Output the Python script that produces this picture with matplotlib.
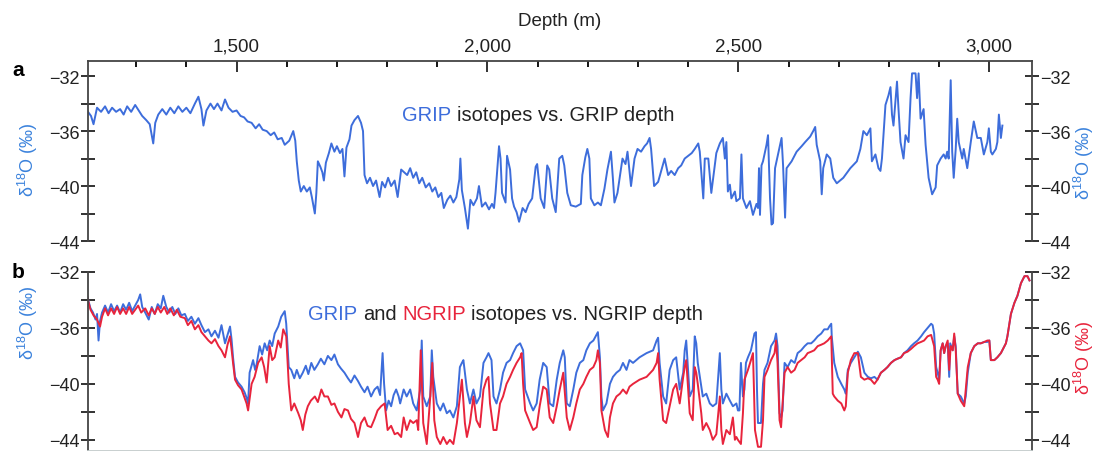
import numpy as np
import matplotlib
matplotlib.use("Agg")
import matplotlib.pyplot as plt
from matplotlib.ticker import FuncFormatter, MultipleLocator

plt.rcParams['font.family'] = ['Liberation Sans', 'DejaVu Sans']
plt.rcParams['mathtext.fontset'] = 'custom'
plt.rcParams['mathtext.rm'] = 'Liberation Sans'

# panel a: GRIP d18O on GRIP depth (m, permil)
grip_a_depth = [
    1204, 1210, 1215, 1222, 1230, 1238, 1245, 1252, 1260, 1268, 1275, 1282, 1290, 1298,
    1305, 1312, 1320, 1327, 1334, 1338, 1344, 1352, 1360, 1368, 1376, 1384, 1392, 1400,
    1408, 1417, 1424, 1430, 1434, 1440, 1448, 1455, 1462, 1470, 1477, 1484, 1492, 1500,
    1508, 1515, 1522, 1530, 1538, 1545, 1552, 1560, 1568, 1575, 1582, 1590, 1596, 1605,
    1613, 1617, 1620, 1624, 1628, 1634, 1640, 1646, 1650, 1656, 1659, 1662, 1667, 1671,
    1674, 1678, 1684, 1689, 1695, 1700, 1706, 1711, 1715, 1719, 1725, 1729, 1735, 1742,
    1748, 1752, 1755, 1760, 1766, 1772, 1778, 1785, 1790, 1796, 1802, 1808, 1815, 1821,
    1828, 1834, 1840, 1846, 1852, 1858, 1864, 1870, 1877, 1884, 1890, 1896, 1902, 1908,
    1913, 1920, 1926, 1932, 1938, 1944, 1946, 1949, 1955, 1961, 1966, 1972, 1979, 1983,
    1989, 1996, 2003, 2009, 2013, 2016, 2020, 2023, 2026, 2029, 2036, 2039, 2045, 2049,
    2053, 2058, 2063, 2070, 2076, 2082, 2089, 2093, 2096, 2099, 2103, 2106, 2113, 2119,
    2123, 2129, 2136, 2143, 2149, 2153, 2159, 2166, 2176, 2186, 2189, 2195, 2199, 2203,
    2206, 2213, 2220, 2226, 2233, 2239, 2246, 2250, 2253, 2259, 2269, 2275, 2279, 2286,
    2293, 2299, 2306, 2313, 2318, 2323, 2326, 2332, 2340, 2347, 2353, 2360, 2366, 2373,
    2380, 2386, 2393, 2400, 2407, 2413, 2420, 2423, 2430, 2433, 2440, 2446, 2453, 2456,
    2463, 2469, 2473, 2476, 2479, 2483, 2486, 2493, 2496, 2503, 2506, 2509, 2516, 2523,
    2529, 2536, 2539, 2541, 2543, 2546, 2549, 2556, 2559, 2563, 2566, 2569, 2573, 2579,
    2586, 2589, 2593, 2596, 2606, 2616, 2626, 2633, 2643, 2649, 2653, 2656, 2663, 2666,
    2669, 2676, 2683, 2689, 2696, 2709, 2723, 2736, 2743, 2749, 2756, 2763, 2766, 2773,
    2779, 2783, 2786, 2793, 2799, 2803, 2806, 2809, 2816, 2819, 2823, 2829, 2833, 2839,
    2843, 2846, 2853, 2856, 2859, 2863, 2869, 2873, 2879, 2886, 2893, 2896, 2903, 2909,
    2913, 2916, 2919, 2923, 2926, 2929, 2933, 2936, 2939, 2946, 2949, 2956, 2963, 2969,
    2976, 2983, 2989, 2996, 2999, 3003, 3006, 3013, 3016, 3019, 3023, 3026,
]
grip_a_d18o = [
    -34.6, -34.9, -35.5, -34.3, -34.6, -34.2, -34.7, -34.3, -34.6, -34.4, -34.8, -34.2, -34.6, -34.1,
    -34.5, -34.9, -35.2, -35.5, -36.9, -35.4, -34.8, -34.4, -34.8, -34.3, -34.7, -34.2, -34.6, -34.3,
    -34.7, -34.0, -33.5, -34.4, -35.6, -34.5, -34.0, -34.4, -34.0, -34.5, -33.7, -34.3, -34.6, -34.5,
    -34.9, -35.0, -35.3, -35.4, -35.8, -35.5, -35.9, -36.0, -36.3, -36.1, -36.6, -36.5, -37.0, -36.7,
    -36.0, -36.7, -38.2, -39.6, -40.4, -40.0, -40.4, -40.1, -40.8, -42.0, -40.5, -38.2, -38.6, -39.0,
    -39.6, -38.3, -37.6, -36.9, -37.5, -37.1, -37.6, -37.3, -39.3, -37.2, -36.6, -35.6, -35.2, -34.9,
    -35.4, -36.0, -39.2, -39.8, -39.4, -40.0, -39.6, -40.8, -39.7, -40.1, -39.4, -40.0, -39.6, -40.8,
    -38.8, -39.0, -39.2, -38.7, -39.4, -39.0, -39.8, -39.4, -40.1, -39.8, -40.4, -40.1, -40.8, -40.5,
    -41.6, -41.0, -40.7, -41.2, -40.8, -39.5, -38.0, -40.3, -41.6, -43.1, -41.0, -41.4, -40.9, -40.0,
    -41.5, -41.2, -41.7, -41.3, -41.6, -40.5, -38.5, -37.1, -38.0, -40.5, -41.2, -37.8, -38.8, -40.9,
    -41.5, -41.9, -42.6, -41.6, -41.9, -41.3, -40.9, -39.6, -38.6, -38.4, -39.8, -40.9, -41.6, -38.5,
    -38.8, -40.9, -41.9, -38.0, -37.8, -38.5, -40.5, -41.4, -41.5, -41.3, -39.2, -37.9, -37.3, -38.0,
    -40.9, -41.4, -41.2, -41.4, -40.2, -38.8, -37.5, -39.5, -41.2, -40.5, -38.0, -38.4, -37.5, -40.0,
    -38.0, -37.3, -37.5, -37.1, -36.9, -36.5, -37.3, -40.0, -39.7, -38.8, -38.0, -39.2, -38.9, -39.2,
    -38.7, -38.5, -38.0, -37.8, -37.6, -37.3, -36.9, -37.5, -40.9, -38.0, -38.0, -40.5, -38.5, -37.6,
    -36.9, -36.5, -38.0, -36.8, -40.4, -39.9, -40.9, -40.4, -41.1, -40.9, -37.7, -40.9, -41.6, -41.1,
    -42.1, -41.3, -41.6, -38.7, -42.1, -38.5, -38.2, -37.0, -36.3, -40.9, -42.8, -42.7, -38.7, -37.7,
    -36.5, -38.5, -42.3, -38.7, -38.2, -37.5, -37.1, -36.8, -36.4, -36.0, -35.7, -37.0, -38.2, -40.6,
    -38.7, -37.7, -38.0, -39.4, -39.8, -39.4, -38.7, -38.2, -37.3, -36.0, -36.3, -35.8, -38.2, -37.7,
    -38.7, -38.9, -38.0, -34.1, -33.4, -32.8, -34.8, -35.6, -32.4, -34.4, -36.8, -38.0, -36.3, -36.8,
    -33.6, -31.8, -31.8, -33.6, -31.8, -35.1, -34.4, -37.0, -39.4, -40.6, -40.1, -38.5, -38.0, -37.7,
    -38.0, -37.5, -38.0, -32.3, -37.5, -39.4, -37.3, -35.1, -36.8, -38.0, -37.3, -38.7, -36.8, -35.3,
    -36.5, -36.5, -37.7, -36.8, -35.8, -37.5, -37.7, -37.3, -36.8, -34.8, -36.5, -35.6,
]

# panel b: GRIP d18O on NGRIP depth
grip_b_depth = [
    1202, 1206, 1209, 1214, 1219, 1222, 1225, 1228, 1232, 1238, 1244, 1250, 1256, 1262,
    1268, 1274, 1280, 1286, 1292, 1298, 1304, 1308, 1312, 1318, 1325, 1331, 1337, 1343,
    1349, 1354, 1360, 1366, 1372, 1378, 1384, 1390, 1397, 1403, 1410, 1417, 1424, 1430,
    1437, 1444, 1450, 1457, 1464, 1470, 1477, 1482, 1487, 1490, 1493, 1497, 1503, 1510,
    1516, 1520, 1523, 1526, 1533, 1537, 1540, 1546, 1551, 1556, 1561, 1566, 1571, 1576,
    1583, 1589, 1596, 1599, 1604, 1609, 1615, 1620, 1626, 1632, 1638, 1643, 1649, 1655,
    1662, 1668, 1675, 1682, 1689, 1695, 1702, 1708, 1715, 1722, 1728, 1735, 1742, 1748,
    1755, 1761, 1768, 1775, 1781, 1786, 1791, 1794, 1798, 1803, 1808, 1813, 1818, 1823,
    1826, 1833, 1839, 1846, 1852, 1859, 1866, 1869, 1872, 1879, 1886, 1889, 1892, 1899,
    1906, 1912, 1919, 1925, 1932, 1939, 1945, 1949, 1952, 1959, 1965, 1972, 1978, 1985,
    1992, 1998, 2002, 2008, 2012, 2018, 2025, 2031, 2038, 2045, 2051, 2058, 2065, 2071,
    2075, 2085, 2091, 2098, 2104, 2111, 2118, 2124, 2131, 2138, 2144, 2151, 2154, 2158,
    2164, 2171, 2177, 2184, 2191, 2197, 2204, 2211, 2217, 2220, 2224, 2227, 2230, 2237,
    2244, 2250, 2257, 2264, 2270, 2277, 2283, 2290, 2303, 2317, 2330, 2337, 2340, 2343,
    2350, 2356, 2363, 2370, 2376, 2383, 2390, 2393, 2396, 2403, 2409, 2413, 2416, 2419,
    2426, 2429, 2436, 2443, 2449, 2456, 2463, 2466, 2469, 2476, 2483, 2489, 2496, 2499,
    2502, 2505, 2509, 2512, 2515, 2519, 2525, 2529, 2532, 2535, 2537, 2539, 2545, 2549,
    2552, 2558, 2565, 2572, 2575, 2578, 2582, 2585, 2588, 2592, 2598, 2605, 2612, 2618,
    2625, 2632, 2638, 2645, 2651, 2658, 2665, 2671, 2678, 2681, 2685, 2686, 2691, 2698,
    2705, 2711, 2714, 2718, 2724, 2731, 2738, 2744, 2751, 2758, 2764, 2771, 2777, 2784,
    2791, 2797, 2804, 2811, 2817, 2824, 2830, 2837, 2844, 2850, 2857, 2864, 2870, 2877,
    2884, 2887, 2890, 2894, 2897, 2900, 2903, 2907, 2910, 2913, 2917, 2920, 2922, 2927,
    2930, 2933, 2937, 2943, 2950, 2953, 2957, 2963, 2970, 2977, 2983, 2990, 2996, 3000,
    3003, 3010, 3016, 3023, 3030, 3033, 3036, 3040, 3043, 3050, 3056, 3063, 3070, 3076,
    3080,
]
grip_b_d18o = [
    -33.7, -34.2, -34.6, -34.9, -35.4, -35.0, -36.9, -35.5, -34.9, -34.4, -34.9, -34.3, -34.8, -34.4,
    -34.9, -34.3, -34.7, -34.2, -34.8, -34.4, -34.0, -33.6, -34.5, -34.9, -35.4, -34.5, -35.0, -34.3,
    -34.6, -33.7, -34.5, -34.9, -34.5, -35.0, -34.6, -35.1, -35.0, -35.5, -35.2, -35.7, -35.3, -35.8,
    -36.3, -36.1, -36.6, -36.2, -36.7, -35.8, -37.1, -36.5, -35.9, -36.8, -38.1, -39.5, -39.9, -40.2,
    -40.6, -41.0, -41.4, -39.2, -38.3, -39.0, -38.6, -37.3, -37.9, -37.1, -37.6, -36.9, -37.3, -36.4,
    -35.9, -35.2, -34.8, -35.7, -38.8, -39.0, -39.6, -39.0, -39.6, -39.2, -38.7, -39.3, -38.5, -39.0,
    -38.6, -38.2, -38.6, -38.0, -38.3, -37.9, -38.6, -38.9, -39.2, -39.6, -39.9, -39.4, -39.8, -40.2,
    -40.6, -40.2, -40.9, -40.4, -40.2, -40.8, -37.8, -40.0, -41.9, -41.2, -41.6, -40.8, -40.4, -40.9,
    -41.4, -40.4, -40.9, -40.4, -41.4, -41.9, -40.4, -36.9, -40.9, -41.6, -40.9, -37.6, -39.5, -41.4,
    -41.9, -41.4, -42.1, -41.9, -42.4, -41.6, -38.8, -38.5, -38.3, -40.4, -41.4, -40.4, -41.4, -40.9,
    -38.5, -38.1, -37.8, -38.3, -40.9, -41.4, -40.4, -39.2, -38.5, -38.3, -37.8, -37.3, -37.1, -37.6,
    -40.4, -41.4, -41.9, -41.4, -39.7, -38.5, -38.8, -41.4, -41.6, -39.7, -38.5, -37.6, -38.1, -41.4,
    -41.6, -40.4, -39.2, -38.5, -38.3, -37.6, -37.1, -36.9, -36.5, -36.3, -38.1, -40.9, -41.9, -41.4,
    -40.0, -39.5, -39.2, -39.0, -38.5, -39.0, -38.3, -38.5, -38.1, -37.8, -37.6, -36.9, -36.7, -38.5,
    -40.9, -41.4, -39.0, -38.3, -38.1, -40.4, -39.2, -37.6, -36.9, -40.9, -40.4, -36.6, -37.1, -38.5,
    -40.2, -40.9, -40.7, -41.4, -41.6, -41.4, -37.8, -40.4, -41.4, -40.7, -41.2, -41.6, -41.4, -41.9,
    -41.9, -38.5, -40.9, -40.4, -38.5, -38.1, -37.6, -36.9, -36.4, -36.3, -40.4, -42.8, -42.8, -40.0,
    -39.0, -38.5, -37.3, -36.9, -36.4, -37.3, -42.1, -42.4, -41.9, -38.5, -38.8, -38.3, -38.5, -37.8,
    -37.6, -37.3, -37.1, -37.1, -36.9, -36.6, -36.4, -36.1, -36.1, -35.9, -35.7, -36.6, -38.5, -39.5,
    -40.0, -40.4, -40.7, -39.0, -38.5, -38.1, -37.7, -38.1, -39.2, -39.5, -39.6, -39.5, -39.7, -39.2,
    -39.0, -38.8, -38.5, -38.3, -38.2, -38.1, -37.8, -37.6, -37.3, -37.1, -36.9, -36.6, -36.3, -36.0,
    -35.7, -35.8, -36.4, -38.8, -39.2, -39.7, -37.6, -37.1, -37.8, -37.3, -37.1, -39.5, -37.1, -37.6,
    -36.6, -37.3, -40.7, -40.9, -41.4, -40.9, -39.2, -37.8, -37.3, -37.1, -37.1, -37.0, -37.0, -36.9,
    -38.3, -38.3, -38.1, -37.8, -37.3, -37.1, -36.6, -35.7, -35.0, -34.2, -33.7, -32.8, -32.3, -32.3,
    -32.6,
]

# panel b: NGRIP d18O on NGRIP depth
ngrip_depth = [
    1202, 1206, 1209, 1215, 1222, 1228, 1232, 1238, 1244, 1250, 1256, 1262, 1268, 1274,
    1280, 1286, 1292, 1298, 1304, 1310, 1318, 1325, 1331, 1337, 1343, 1349, 1356, 1362,
    1368, 1375, 1381, 1388, 1397, 1403, 1410, 1417, 1424, 1430, 1437, 1444, 1450, 1457,
    1464, 1470, 1477, 1482, 1487, 1490, 1493, 1497, 1503, 1510, 1516, 1520, 1523, 1530,
    1536, 1543, 1550, 1555, 1560, 1566, 1571, 1576, 1583, 1588, 1593, 1599, 1604, 1609,
    1615, 1623, 1628, 1632, 1637, 1642, 1648, 1656, 1662, 1669, 1675, 1682, 1689, 1695,
    1702, 1709, 1715, 1722, 1728, 1735, 1742, 1748, 1755, 1761, 1768, 1775, 1781, 1788,
    1795, 1801, 1808, 1815, 1821, 1828, 1833, 1839, 1846, 1852, 1859, 1862, 1867, 1872,
    1879, 1886, 1890, 1894, 1899, 1906, 1912, 1919, 1925, 1932, 1939, 1945, 1949, 1955,
    1959, 1965, 1972, 1978, 1985, 1992, 1998, 2002, 2005, 2012, 2018, 2025, 2031, 2038,
    2045, 2051, 2058, 2065, 2068, 2071, 2075, 2085, 2091, 2098, 2104, 2111, 2118, 2124,
    2131, 2138, 2144, 2151, 2158, 2164, 2171, 2177, 2184, 2191, 2197, 2204, 2211, 2217,
    2220, 2224, 2227, 2234, 2240, 2244, 2250, 2257, 2264, 2270, 2277, 2283, 2290, 2303,
    2317, 2330, 2337, 2340, 2343, 2350, 2356, 2363, 2370, 2376, 2383, 2390, 2393, 2396,
    2403, 2409, 2413, 2416, 2419, 2426, 2429, 2436, 2443, 2449, 2456, 2463, 2466, 2469,
    2476, 2483, 2489, 2493, 2496, 2499, 2505, 2509, 2512, 2519, 2525, 2529, 2531, 2533,
    2539, 2545, 2549, 2552, 2558, 2565, 2572, 2575, 2578, 2582, 2585, 2588, 2592, 2598,
    2605, 2612, 2618, 2625, 2632, 2638, 2645, 2651, 2658, 2665, 2671, 2678, 2685, 2688,
    2691, 2698, 2705, 2711, 2714, 2718, 2724, 2731, 2738, 2744, 2751, 2758, 2764, 2771,
    2777, 2784, 2791, 2797, 2804, 2811, 2817, 2824, 2830, 2837, 2844, 2850, 2857, 2864,
    2870, 2877, 2884, 2887, 2890, 2894, 2897, 2900, 2903, 2907, 2910, 2913, 2917, 2920,
    2923, 2927, 2930, 2933, 2937, 2943, 2950, 2953, 2957, 2963, 2970, 2977, 2983, 2990,
    2996, 3000, 3003, 3010, 3016, 3023, 3030, 3033, 3036, 3040, 3043, 3050, 3056, 3063,
    3070, 3076, 3080,
]
ngrip_d18o = [
    -33.7, -34.3, -34.7, -35.1, -35.4, -35.9, -35.2, -34.6, -35.1, -34.6, -35.0, -34.5, -35.0, -34.6,
    -35.0, -34.5, -35.0, -34.7, -34.4, -34.9, -34.6, -35.1, -34.6, -35.0, -34.5, -34.9, -34.5, -35.0,
    -34.6, -35.1, -34.7, -35.2, -35.3, -35.8, -35.5, -36.1, -35.8, -36.3, -36.6, -36.9, -37.1, -36.8,
    -37.3, -37.6, -38.1, -37.2, -36.6, -37.5, -38.5, -39.7, -40.1, -40.4, -41.0, -41.4, -41.9, -40.0,
    -39.5, -38.5, -38.1, -38.8, -39.9, -37.3, -38.3, -38.1, -36.9, -37.4, -36.1, -36.6, -40.0, -41.9,
    -41.4, -42.1, -42.6, -43.3, -42.2, -41.6, -41.2, -40.9, -41.3, -40.4, -40.9, -40.9, -41.5, -41.4,
    -42.0, -42.4, -41.8, -41.9, -42.5, -42.8, -43.8, -42.8, -42.4, -43.0, -43.1, -42.5, -41.9, -41.6,
    -41.4, -43.3, -43.0, -43.6, -43.5, -43.8, -42.4, -43.3, -42.6, -42.8, -42.6, -43.3, -37.6, -42.8,
    -44.3, -40.9, -38.5, -42.6, -43.8, -44.3, -43.8, -44.3, -44.0, -44.3, -42.8, -40.9, -39.7, -42.8,
    -43.8, -42.8, -40.9, -42.6, -43.1, -40.4, -39.7, -39.5, -41.4, -43.3, -43.3, -41.4, -40.9, -40.0,
    -39.5, -39.0, -38.5, -38.1, -37.8, -40.0, -41.9, -42.8, -43.3, -43.1, -41.6, -40.2, -40.4, -42.4,
    -42.8, -41.6, -40.4, -39.2, -42.4, -43.3, -42.4, -41.4, -40.4, -40.0, -39.5, -39.0, -38.8, -38.3,
    -37.6, -38.5, -41.9, -43.3, -43.8, -42.4, -41.4, -40.9, -40.7, -40.4, -40.7, -40.2, -40.0, -39.7,
    -39.5, -39.0, -38.5, -37.8, -39.7, -42.6, -42.8, -41.6, -40.4, -40.0, -41.4, -39.5, -38.8, -38.3,
    -42.1, -42.6, -38.8, -39.2, -40.0, -42.1, -43.3, -42.8, -43.3, -44.0, -43.6, -40.9, -43.3, -44.3,
    -43.3, -43.6, -42.4, -44.0, -43.8, -44.0, -44.3, -42.1, -39.7, -39.0, -38.3, -37.8, -40.4, -43.3,
    -44.5, -44.5, -42.6, -39.5, -39.0, -38.3, -37.8, -36.9, -38.5, -42.6, -43.1, -41.4, -39.2, -38.8,
    -39.2, -39.0, -38.5, -38.3, -38.1, -37.8, -37.7, -37.6, -37.3, -37.2, -37.1, -36.9, -36.6, -40.7,
    -40.9, -41.2, -41.4, -41.9, -41.6, -39.2, -38.3, -37.8, -37.8, -39.5, -39.7, -39.6, -39.7, -40.0,
    -39.7, -39.2, -39.0, -38.8, -38.5, -38.3, -38.2, -38.1, -37.8, -37.7, -37.5, -37.3, -37.1, -37.0,
    -36.9, -36.6, -36.5, -36.9, -37.3, -39.5, -39.7, -40.0, -37.6, -37.1, -37.8, -37.3, -36.9, -39.0,
    -37.3, -37.6, -36.4, -37.6, -40.7, -41.2, -41.6, -40.4, -38.8, -37.8, -37.3, -37.1, -37.1, -37.0,
    -36.9, -36.9, -38.3, -38.3, -38.1, -37.8, -37.3, -37.1, -36.6, -35.7, -35.0, -34.2, -33.7, -32.8,
    -32.3, -32.3, -32.6,
]

blue = '#3d6ddb'
red = '#e8243c'
label_blue = '#3b82dc'
dark = '#222222'

W, H = 1095, 452
fig = plt.figure(figsize=(W / 100, H / 100), dpi=100)


def fig_box(left, top, right, bottom):
    return [left / W, 1 - bottom / H, (right - left) / W, (bottom - top) / H]


ax1 = fig.add_axes(fig_box(88, 62, 1032, 242))
ax2 = fig.add_axes(fig_box(88, 273, 1032, 452))

ax1.plot(grip_a_depth, grip_a_d18o, color=blue, lw=1.4)
ax2.plot(grip_b_depth, grip_b_d18o, color=blue, lw=1.4)
ax2.plot(ngrip_depth, ngrip_d18o, color=red, lw=1.4)

for ax in (ax1, ax2):
    ax.patch.set_visible(False)
    ax.set_xlim(1204, 3085)
    ax.set_yticks([-44, -40, -36, -32])
    ax.yaxis.set_minor_locator(MultipleLocator(2))
    ax.tick_params(axis='y', which='both', direction='inout', length=10, width=1.3,
                   left=True, right=True, labelleft=True, labelright=True,
                   labelsize=13, pad=1, colors=dark)
    for s in ('left', 'right', 'top', 'bottom'):
        ax.spines[s].set_color('#444444')
        ax.spines[s].set_linewidth(1.3)

ax1.set_ylim(-44, -30.9)
ax1.spines['bottom'].set_visible(False)
ax1.xaxis.tick_top()
ax1.xaxis.set_label_position('top')
ax1.set_xticks([1500, 2000, 2500, 3000])
ax1.xaxis.set_minor_locator(MultipleLocator(100))
ax1.xaxis.set_major_formatter(FuncFormatter(lambda v, p: f'{v:,.0f}'))
ax1.tick_params(axis='x', which='major', direction='in', length=8, width=1.3,
                labelsize=13.5, pad=5, colors=dark)
ax1.tick_params(axis='x', which='minor', direction='in', length=4.5, width=1.3)
ax1.set_xlabel('Depth (m)', fontsize=13.5, labelpad=9, color=dark)

ax2.set_ylim(-44.8, -32)
ax2.spines['top'].set_visible(False)
ax2.spines['bottom'].set_color('#c4cccc')
ax2.set_xticks([])

# axis titles on both sides
ylab = 'δ$^{\\mathregular{18}}$O (‰)'
fig.text(28 / W, 1 - 160 / H, ylab, rotation=90, ha='center', va='center',
         fontsize=13, color=label_blue)
fig.text(1084 / W, 1 - 163 / H, ylab, rotation=90, ha='center', va='center',
         fontsize=13, color=label_blue)
fig.text(28 / W, 1 - 323 / H, ylab, rotation=90, ha='center', va='center',
         fontsize=13, color=label_blue)
fig.text(1084 / W, 1 - 358 / H, ylab, rotation=90, ha='center', va='center',
         fontsize=13, color=red)

fig.text(18 / W, 1 - 71 / H, 'a', fontsize=15, fontweight='bold', ha='center', va='center')
fig.text(18 / W, 1 - 273 / H, 'b', fontsize=15, fontweight='bold', ha='center', va='center')


def colored_line(x, y, parts, size=14.5):
    gap = 0.278 * size
    prev = fig.text(x / W, 1 - y / H, parts[0][0], color=parts[0][1],
                    fontsize=size, va='baseline', ha='left')
    for txt, col in parts[1:]:
        prev = ax1.annotate(txt, xy=(1, 0), xycoords=prev, xytext=(gap, 0),
                            textcoords='offset points', va='bottom', ha='left',
                            color=col, fontsize=size, annotation_clip=False,
                            clip_on=False, zorder=5)


colored_line(402, 121, [('GRIP', blue), ('isotopes vs. GRIP depth', dark)])
colored_line(308, 320, [('GRIP', blue), ('and', dark), ('NGRIP', red),
                        ('isotopes vs. NGRIP depth', dark)])

fig.savefig('out.png', dpi=100)
